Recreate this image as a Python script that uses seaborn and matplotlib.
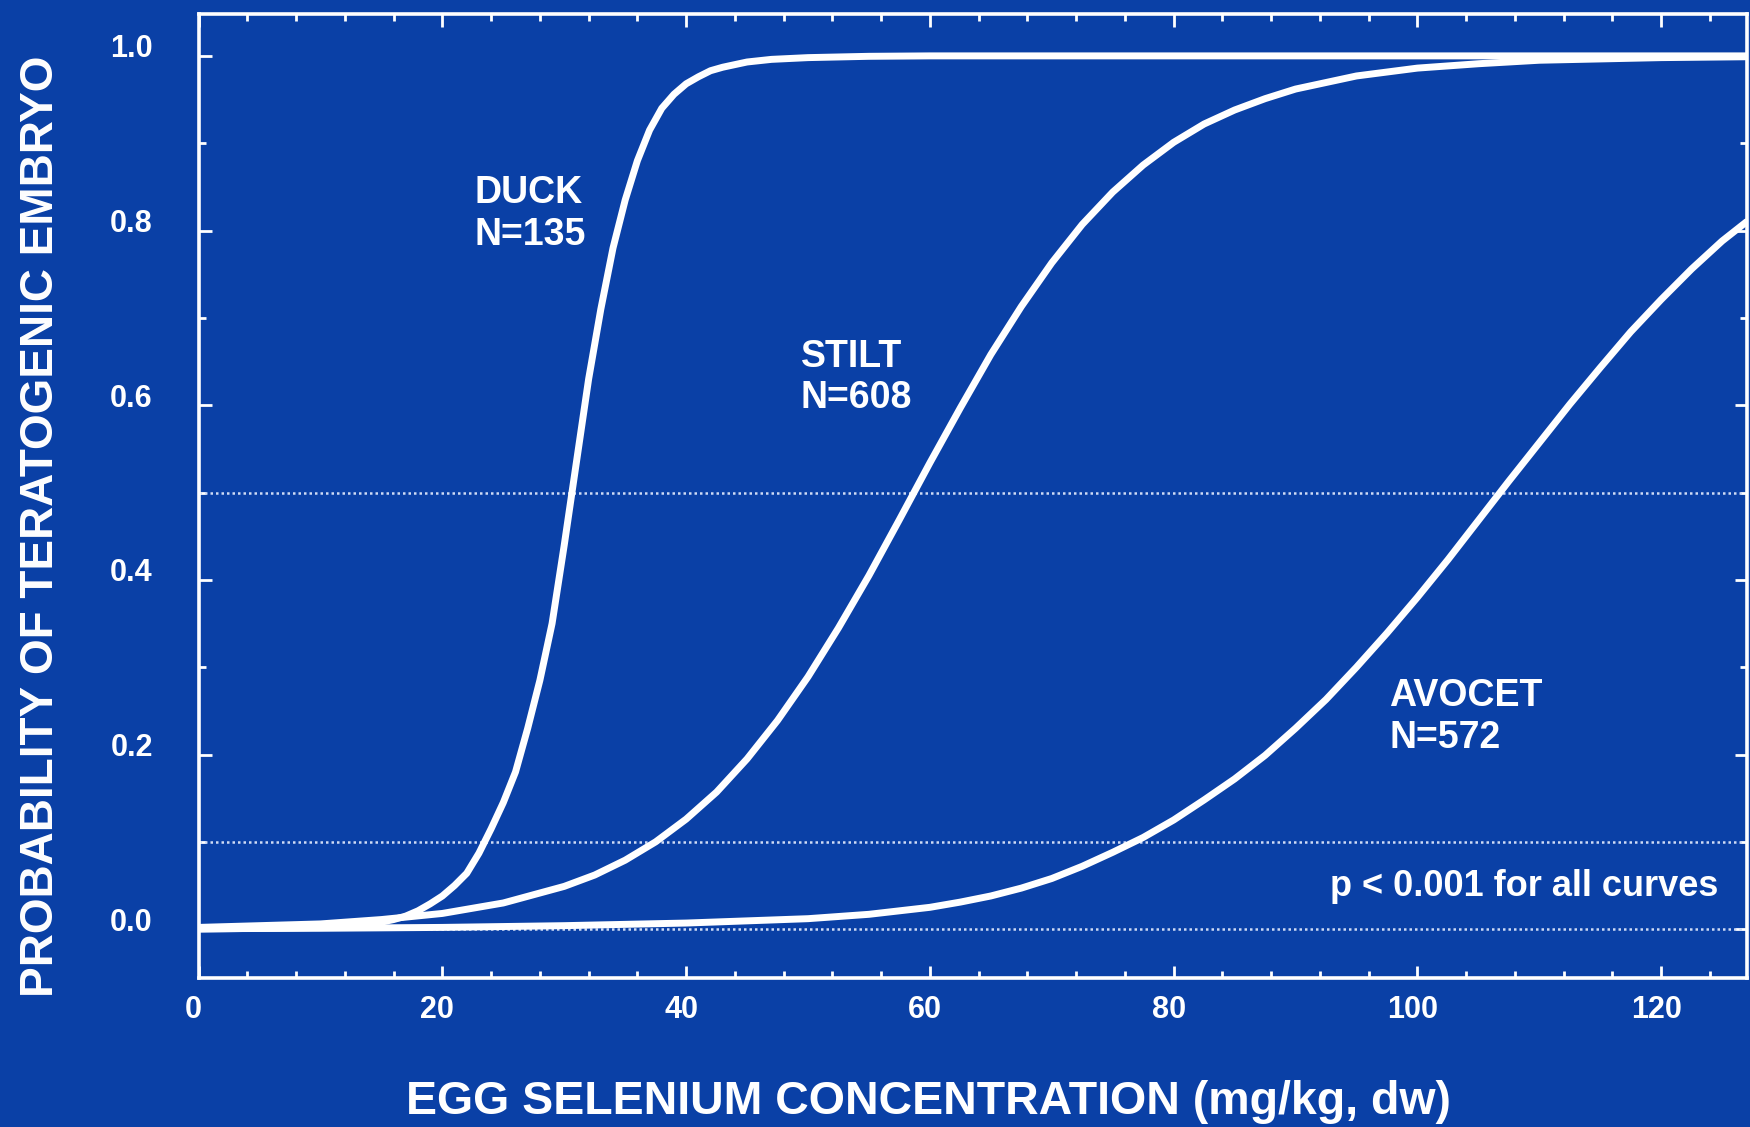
import matplotlib
matplotlib.use("Agg")
import matplotlib.pyplot as plt
import numpy as np
import pandas as pd
import seaborn as sns
from matplotlib.ticker import MultipleLocator, FixedLocator
from matplotlib.transforms import ScaledTranslation

# ---- data ----
duck_x = [0, 10, 15, 16, 17, 18, 19, 20, 21, 22, 23, 24, 25, 26, 27, 28, 29,
          30, 31, 32, 33, 34, 35, 36, 37, 38, 39, 40, 41, 42, 43, 44, 45, 47,
          50, 55, 60, 80, 100, 127]
duck_p = [0.0, 0.002, 0.008, 0.011, 0.015, 0.021, 0.029, 0.038, 0.050, 0.064,
          0.087, 0.115, 0.145, 0.18, 0.23, 0.285, 0.35, 0.44, 0.535, 0.63,
          0.71, 0.78, 0.835, 0.88, 0.915, 0.94, 0.956, 0.968, 0.976, 0.983,
          0.987, 0.990, 0.993, 0.996, 0.998, 0.9995, 1.0, 1.0, 1.0, 1.0]

stilt_x = [0, 5, 10, 15, 20, 25, 30, 32.5, 35, 37.5, 40, 42.5, 45, 47.5, 50,
           52.5, 55, 57.5, 60, 62.5, 65, 67.5, 70, 72.5, 75, 77.5, 80, 82.5,
           85, 87.5, 90, 95, 100, 105, 110, 120, 127]
stilt_p = [0.002, 0.004, 0.006, 0.011, 0.018, 0.030, 0.049, 0.062, 0.079,
           0.100, 0.126, 0.157, 0.195, 0.239, 0.289, 0.345, 0.405, 0.469,
           0.534, 0.597, 0.658, 0.713, 0.763, 0.807, 0.844, 0.875, 0.901,
           0.922, 0.938, 0.951, 0.962, 0.977, 0.986, 0.991, 0.995, 0.998,
           0.999]

avocet_x = [0, 10, 20, 30, 40, 50, 55, 60, 62.5, 65, 67.5, 70, 72.5, 75, 77.5,
            80, 82.5, 85, 87.5, 90, 92.5, 95, 97.5, 100, 102.5, 105, 107.5,
            110, 112.5, 115, 117.5, 120, 122.5, 125, 127]
avocet_p = [0.0005, 0.001, 0.002, 0.004, 0.007, 0.012, 0.017, 0.025, 0.031,
            0.038, 0.047, 0.058, 0.072, 0.088, 0.105, 0.125, 0.148, 0.172,
            0.199, 0.230, 0.263, 0.300, 0.339, 0.380, 0.423, 0.468, 0.513,
            0.557, 0.601, 0.643, 0.684, 0.721, 0.756, 0.788, 0.810]

species = ["DUCK", "STILT", "AVOCET"]
sample_sizes = [135, 608, 572]
ref_levels = [0.0, 0.1, 0.5]
x_ticks = [0, 20, 40, 60, 80, 100, 120]
y_ticks = [0.0, 0.2, 0.4, 0.6, 0.8, 1.0]
y_tick_labels = ["0.0", "0.2", "0.4", "0.6", "0.8", "1.0"]
note = "p < 0.001 for all curves"
x_title = "EGG SELENIUM CONCENTRATION (mg/kg, dw)"
y_title = "PROBABILITY OF TERATOGENIC EMBRYO"

df = pd.concat([
    pd.DataFrame({"x": duck_x, "p": duck_p, "species": species[0]}),
    pd.DataFrame({"x": stilt_x, "p": stilt_p, "species": species[1]}),
    pd.DataFrame({"x": avocet_x, "p": avocet_p, "species": species[2]}),
], ignore_index=True)

# ---- style ----
sns.set_theme(style="ticks")
plt.rcParams["font.family"] = ["Liberation Sans", "DejaVu Sans"]
plt.rcParams["font.weight"] = "bold"

bg = "#0a40a6"
fg = "white"
fig = plt.figure(figsize=(17.5, 11.27), dpi=100, facecolor=bg)
ax = fig.add_axes([0.1135, 0.132, 0.8845, 0.856])
ax.set_facecolor(bg)

for lvl in ref_levels:
    ax.axhline(lvl, color="#cfdbf5", lw=1.8, ls=(0, (1, 1.2)), zorder=1)

sns.lineplot(data=df, x="x", y="p", hue="species",
             palette={s: fg for s in species}, lw=5.0, legend=False,
             estimator=None, ax=ax, zorder=3,
             solid_joinstyle="round", solid_capstyle="round")

ax.set_xlim(0, 127)
ax.set_ylim(-0.0562, 1.0485)

ax.xaxis.set_major_locator(FixedLocator(x_ticks))
ax.xaxis.set_minor_locator(MultipleLocator(4))
ax.yaxis.set_major_locator(FixedLocator(y_ticks))
ax.yaxis.set_minor_locator(MultipleLocator(0.1))
ax.set_xticklabels([str(v) for v in x_ticks])
ax.set_yticklabels(y_tick_labels)

ax.tick_params(axis="both", which="both", direction="in", colors=fg,
               top=True, right=True, width=2)
ax.tick_params(axis="both", which="major", length=9, labelsize=22)
ax.tick_params(axis="both", which="minor", length=5)
ax.tick_params(axis="y", which="major", pad=33)
ax.tick_params(axis="x", which="major", pad=12)
for lab in ax.get_yticklabels():
    lab.set_fontweight("bold")
    lab.set_transform(lab.get_transform() + ScaledTranslation(0, 0.10, fig.dpi_scale_trans))
for lab in ax.get_xticklabels():
    lab.set_fontweight("bold")
    lab.set_transform(lab.get_transform() + ScaledTranslation(-0.05, 0, fig.dpi_scale_trans))

for sp in ax.spines.values():
    sp.set_color(fg)
    sp.set_linewidth(2.6)

ax.set_xlabel(x_title, fontsize=33.5, fontweight="bold", color=fg, va="center")
ax.xaxis.set_label_coords(0.4715, -0.128)
ax.set_ylabel(y_title, fontsize=33, fontweight="bold", color=fg, va="center")
ax.yaxis.set_label_coords(-0.1018, 0.468)

label_pos = {"DUCK": (22.6, 0.819), "STILT": (49.4, 0.632), "AVOCET": (97.7, 0.243)}
for s, n in zip(species, sample_sizes):
    x0, y0 = label_pos[s]
    ax.text(x0, y0, f"{s}\nN={n}", color=fg, fontsize=27, fontweight="bold",
            ha="left", va="center", linespacing=1.19, zorder=4)

ax.text(124.7, 0.0485, note, color=fg, fontsize=26, fontweight="bold",
        ha="right", va="center", zorder=4)

fig.savefig("out.png", dpi=100, facecolor=bg)
